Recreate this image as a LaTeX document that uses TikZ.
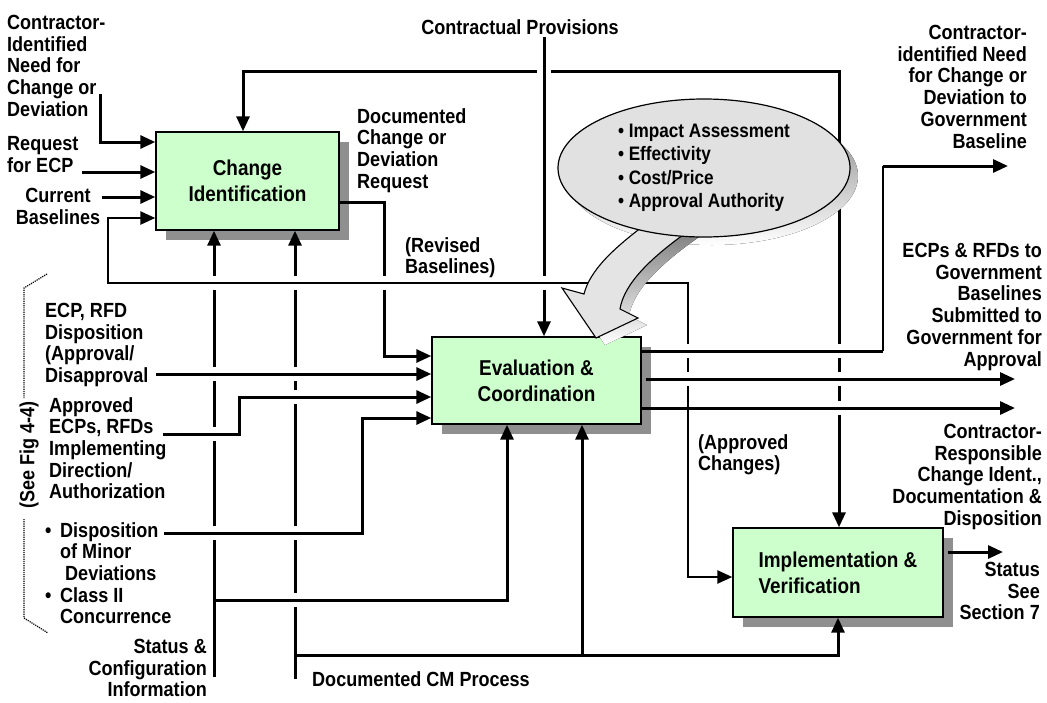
\documentclass[tikz,border=0pt]{standalone}
\usepackage{fontspec}
\newfontfamily\dfont[FakeStretch=0.88]{Liberation Sans}
\usetikzlibrary{arrows.meta,calc,shadows,shapes.geometric}

\definecolor{boxgreen}{HTML}{CCFFCC}
\definecolor{shade}{HTML}{8F8F8F}
\definecolor{bubble}{HTML}{E1E1E1}
\definecolor{bubblearrow}{HTML}{E4E4E4}

\tikzset{
  lbl/.style={font=\dfont\bfseries\fontsize{20.5}{21.7}\selectfont, inner sep=0pt, align=left},
  procbox/.style={draw=black, line width=1.4pt, fill=boxgreen, inner sep=0pt, align=center,
    font=\dfont\bfseries\fontsize{21.5}{26}\selectfont,
    drop shadow={shadow xshift=10pt, shadow yshift=-10pt, fill=shade, opacity=1}},
  conn/.style={line width=3pt},
  thinconn/.style={line width=1.6pt},
  busconn/.style={line width=2.5pt},
  bracket/.style={densely dotted, line width=1.2pt},
  >={Triangle[length=15pt,width=13pt]}
}

\begin{document}
\begin{tikzpicture}[x=1pt,y=-1pt]
\fill[white] (0,0) rectangle (1047,702);
\useasboundingbox (0,0) rectangle (1047,702);

% process boxes
\node[procbox, minimum width=183pt, minimum height=98pt] (ci) at (247.5,181) {Change\\Identification};
\node[procbox, minimum width=209pt, minimum height=87pt] (ec) at (536.5,380.5) {Evaluation \&\\Coordination};
\node[procbox, minimum width=210pt, minimum height=89pt, align=left] (iv) at (838,572.5) {Implementation \&\\Verification};

% junctions and free ends
\coordinate (pNeed) at (100,94);   \coordinate (pNeedK) at (100,142);
\coordinate (pReq) at (82,172);
\coordinate (pCur) at (102,197);
\coordinate (pRevA) at (108,218);  \coordinate (pRevB) at (108,283);
\coordinate (pRevK) at (688,283);  \coordinate (pRevL) at (688,577);
\coordinate (pTopL) at (243,71);   \coordinate (pTopR) at (839,71);
\coordinate (pProv) at (544,37);
\coordinate (pDocA) at (384,202);  \coordinate (pDocB) at (384,356);
\coordinate (pDisp) at (156,374);
\coordinate (pAppr) at (163,434);  \coordinate (pApprK) at (239,434); \coordinate (pApprL) at (239,397);
\coordinate (pMin) at (164,533);   \coordinate (pMinK) at (362,533);  \coordinate (pMinL) at (362,418);
\coordinate (pStat) at (214,677);
\coordinate (pClsA) at (214,600);  \coordinate (pClsB) at (507,600);
\coordinate (pCM) at (295,679);
\coordinate (pCMa) at (295,655);   \coordinate (pCMb) at (838,655);   \coordinate (pCMc) at (582,655);
\coordinate (pO1) at (883,351);    \coordinate (pO1t) at (883,166);
\coordinate (oNeed) at (1008,166);
\coordinate (oSub) at (1015,379);
\coordinate (oResp) at (1015,408);
\coordinate (oStat) at (1003,552);

% inputs to change identification
\draw[conn,->] (pNeed) -- (pNeedK) -- (pNeedK -| ci.west);
\draw[conn,->] (pReq) -- (pReq -| ci.west);
\draw[conn,->] (pCur) -- (pCur -| ci.west);
\draw[busconn,<->] (pRevA -| ci.west) -- (pRevA) -- (pRevB) -- (pRevK) -- (pRevL) -- (pRevL -| iv.west);
\draw[conn,<->] (pTopL |- ci.north) -- (pTopL) -- (pTopR) -- (pTopR |- iv.north);
\draw[conn,->] (pProv) -- (pProv |- ec.north);

% inputs to evaluation
\draw[conn,->] (pDocA -| ci.east) -- (pDocA) -- (pDocB) -- (pDocB -| ec.west);
\draw[conn,->] (pDisp) -- (pDisp -| ec.west);
\draw[conn,->] (pAppr) -- (pApprK) -- (pApprL) -- (pApprL -| ec.west);
\draw[conn,->] (pMin) -- (pMinK) -- (pMinL) -- (pMinL -| ec.west);
\draw[conn,->] (pStat) -- (pStat |- ci.south);
\draw[conn,->] (pClsA) -- (pClsB) -- (pClsB |- ec.south);
\draw[conn,->] (pCM) -- (pCM |- ci.south);
\draw[conn,->] (pCMa) -- (pCMb) -- (pCMb |- iv.south);
\draw[conn,->] (pCMc) -- (pCMc |- ec.south);

% outputs
\draw[conn] (pO1 -| ec.east) -- (pO1);
\draw[thinconn] (pO1) -- (pO1t);
\draw[conn,->] (pO1t) -- (oNeed);
\draw[conn,->] ($(oSub -| ec.east)+(4,0)$) -- (oSub);
\draw[conn,->] (oResp -| ec.east) -- (oResp);
\draw[conn,->] ($(oStat -| iv.east)+(4,0)$) -- (oStat);

% line crossings: horizontal line passes over
\foreach \x/\y/\w in {214/283/2.5, 295/283/2.5, 384/283/2.5, 544/283/2.5,
  214/374/3, 295/374/3, 214/434/3, 295/397/3, 214/533/3, 295/533/3,
  295/600/3, 688/351/3, 688/379/3, 839/351/3, 839/379/3, 839/408/3}{
  \fill[white] (\x-5,\y-7) rectangle (\x+5,\y+7);
  \draw[line width=\w pt] (\x-6,\y) -- (\x+6,\y);
}
% vertical line passes over
\fill[white] (537,66) rectangle (551,76);
\draw[conn] (544,63) -- (544,79);

% callout bubble with curved arrow
\fill[shade] (712,176) ellipse [x radius=146pt, y radius=69pt];
\fill[shade, shift={(9,7)}] (646,224) .. controls (614,248) and (590,270) .. (584,294)
  -- (562,288) -- (596,338) -- (638,318) -- (620,309)
  .. controls (624,284) and (650,258) .. (690,230) -- cycle;
\filldraw[fill=bubblearrow, draw=black, line width=1.1pt] (646,224) .. controls (614,248) and (590,270) .. (584,294)
  -- (562,288) -- (596,338) -- (638,318) -- (620,309)
  .. controls (624,284) and (650,258) .. (690,230) -- cycle;
\node[ellipse, draw=black, fill=bubble, line width=1.2pt, minimum width=292pt, minimum height=138pt,
  inner sep=0pt, align=left, font=\dfont\bfseries\fontsize{19.5}{23.4}\selectfont] (ia) at (704,168)
  {• Impact Assessment\\• Effectivity\\• Cost/Price\\• Approval Authority};

% reference bracket
\draw[bracket] (47,274) -- (24,288) -- (24,398);
\draw[bracket] (24,519) -- (24,618) -- (48,633);

% labels
\node[lbl, anchor=north west] (tNeed) at (7,15) {Contractor-\\Identified\\Need for\\Change or\\Deviation};
\node[lbl, anchor=north west] (tReq) at (7,136) {Request\\for ECP};
\node[lbl, anchor=north, align=center] (tCur) at (58,188) {Current\\Baselines};
\node[lbl, anchor=north west] (tDoc) at (357,108) {Documented\\Change or\\Deviation\\Request};
\node[lbl, anchor=north] (tProv) at (520,19) {Contractual Provisions};
\node[lbl, anchor=north west] (tRev) at (405,237) {(Revised\\Baselines)};
\node[lbl, anchor=north east, align=right] (tONeed) at (1027,25) {Contractor-\\identified Need\\for Change or\\Deviation to\\Government\\Baseline};
\node[lbl, anchor=north east, align=right] (tOSub) at (1042,243) {ECPs \& RFDs to\\Government\\Baselines\\Submitted to\\Government for\\Approval};
\node[lbl, anchor=north east, align=right] (tOResp) at (1042,424) {Contractor-\\Responsible\\Change Ident.,\\Documentation \&\\Disposition};
\node[lbl, anchor=north east, align=right] (tOStat) at (1040,562) {Status\\See\\Section 7};
\node[lbl, anchor=north west] (tDisp) at (45,303) {ECP, RFD\\Disposition\\(Approval/\\Disapproval};
\node[lbl, anchor=north west] (tAppr) at (49,397) {Approved\\ECPs, RFDs\\Implementing\\Direction/\\Authorization};
\node[lbl, anchor=north west] (tMin) at (45,522) {\makebox[15pt][l]{•}Disposition\\\hspace*{15pt}of Minor\\\hspace*{20pt}Deviations\\\makebox[15pt][l]{•}Class II\\\hspace*{15pt}Concurrence};
\node[lbl, anchor=north east, align=right] (tStat) at (207,639) {Status \&\\Configuration\\Information};
\node[lbl, anchor=north west] (tCM) at (312,671) {Documented CM Process};
\node[lbl, anchor=north west] (tApch) at (698,434) {(Approved\\Changes)};
\node[lbl, rotate=90] (tFig) at (29,455) {(See Fig 4-4)};
\end{tikzpicture}
\end{document}
